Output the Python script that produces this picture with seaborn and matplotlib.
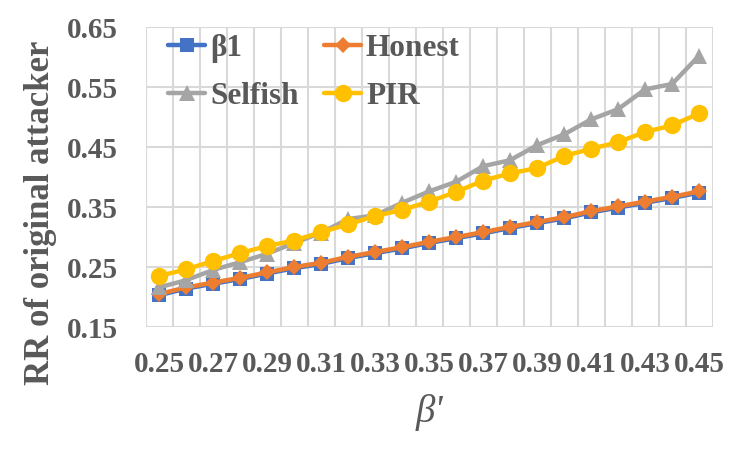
import matplotlib
matplotlib.use('Agg')
import matplotlib.pyplot as plt
from matplotlib.ticker import FixedLocator
import seaborn as sns
import pandas as pd

# ── data ──
beta = [0.25, 0.26, 0.27, 0.28, 0.29, 0.30, 0.31, 0.32, 0.33, 0.34, 0.35,
        0.36, 0.37, 0.38, 0.39, 0.40, 0.41, 0.42, 0.43, 0.44, 0.45]
beta1 = [0.203, 0.214, 0.222, 0.230, 0.239, 0.248, 0.255, 0.265, 0.273, 0.281, 0.290,
         0.298, 0.306, 0.315, 0.323, 0.331, 0.341, 0.349, 0.357, 0.365, 0.374]
honest = [0.205, 0.216, 0.224, 0.232, 0.241, 0.250, 0.257, 0.267, 0.275, 0.283, 0.292,
          0.300, 0.308, 0.317, 0.325, 0.333, 0.343, 0.351, 0.359, 0.367, 0.376]
selfish = [0.216, 0.228, 0.245, 0.258, 0.272, 0.290, 0.307, 0.330, 0.336, 0.357, 0.376,
           0.392, 0.418, 0.428, 0.453, 0.471, 0.496, 0.513, 0.546, 0.555, 0.602]
pir = [0.235, 0.246, 0.260, 0.273, 0.285, 0.294, 0.308, 0.321, 0.335, 0.345, 0.359,
       0.375, 0.394, 0.406, 0.415, 0.435, 0.447, 0.458, 0.475, 0.486, 0.506]

series = {'β1': beta1, 'Honest': honest, 'Selfish': selfish, 'PIR': pir}
rows = []
for name, vals in series.items():
    for b, v in zip(beta, vals):
        rows.append({'beta': b, 'RR': v, 'Series': name})
df = pd.DataFrame(rows)

# ── style ──
sns.set_theme(style='white')
plt.rcParams['font.family'] = ['Liberation Serif', 'DejaVu Serif']
txt = '#595959'
grid_c = '#D9D9D9'

style = {
    'β1':      dict(color='#4472C4', marker='s', markersize=9.5),
    'Honest':  dict(color='#ED7D31', marker='D', markersize=8.5),
    'Selfish': dict(color='#A5A5A5', marker='^', markersize=11),
    'PIR':     dict(color='#FFC000', marker='o', markersize=12.5),
}

fig = plt.figure(figsize=(7.44, 4.54), dpi=100)
ax = fig.add_axes([0.1956, 0.2797, 0.7621, 0.6608])

for name in series:
    sub = df[df['Series'] == name]
    st = style[name]
    sns.lineplot(data=sub, x='beta', y='RR', ax=ax, label=name,
                 color=st['color'], marker=st['marker'], markersize=st['markersize'],
                 markeredgewidth=0, linewidth=3.2)

# axes, categorical-like x with gridlines at category boundaries
ax.set_xlim(0.245, 0.455)
ax.set_ylim(0.15, 0.65)
ax.set_yticks([0.15, 0.25, 0.35, 0.45, 0.55, 0.65])
ax.set_yticklabels(['0.15', '0.25', '0.35', '0.45', '0.55', '0.65'])
ax.set_xticks(beta[::2])
ax.set_xticklabels([f'{b:.2f}' for b in beta[::2]])
ax.xaxis.set_minor_locator(FixedLocator([0.245 + 0.01 * i for i in range(22)]))
ax.grid(False)
ax.grid(True, which='minor', axis='x', color=grid_c, linewidth=1.5)
ax.grid(True, which='major', axis='y', color=grid_c, linewidth=1.5)
ax.set_axisbelow(True)
for sp in ax.spines.values():
    sp.set_visible(False)
ax.tick_params(axis='both', which='both', length=0)
ax.tick_params(axis='x', which='major', pad=17, labelsize=21, labelcolor=txt)
ax.tick_params(axis='y', pad=20, labelsize=21, labelcolor=txt)
for lab in ax.get_xticklabels() + ax.get_yticklabels():
    lab.set_fontweight('bold')

ax.set_xlabel("β'", fontsize=28, color=txt, style='italic', labelpad=12)
ax.set_ylabel('RR of original attacker', fontsize=25, color=txt, fontweight='bold')
ax.yaxis.set_label_coords(-0.156, 0.38)

# legend filled row-wise: β1, Honest / Selfish, PIR
handles, labels = ax.get_legend_handles_labels()
order = [0, 2, 1, 3]
leg = ax.legend([handles[i] for i in order], [labels[i] for i in order],
                ncol=2, loc='upper left', bbox_to_anchor=(-0.01, 1.07), frameon=False,
                fontsize=22.5, handlelength=1.2, handletextpad=0.15,
                columnspacing=0.8, labelspacing=0.6)
for t in leg.get_texts():
    t.set_color(txt)
    t.set_fontweight('bold')

fig.savefig('out.png', dpi=100)
